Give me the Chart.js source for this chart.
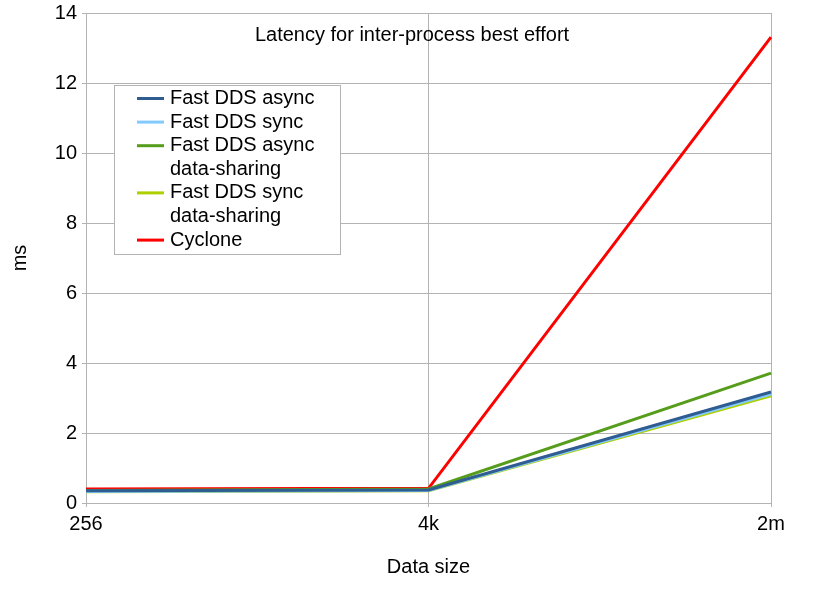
<!DOCTYPE html>
<html>
<head>
<meta charset="utf-8">
<script src="https://cdn.jsdelivr.net/npm/chart.js@4"></script>
<style>
html,body{margin:0;padding:0;background:#fff;}
#wrap{width:825px;height:606px;}
</style>
</head>
<body>
<div id="wrap"><canvas id="c" width="825" height="606"></canvas></div>
<script>
const categories = ['256', '4k', '2m'];
const seriesNames = ['Fast DDS async', 'Fast DDS sync', 'Fast DDS async\ndata-sharing', 'Fast DDS sync\ndata-sharing', 'Cyclone'];
const fastAsync = [0.35, 0.37, 3.17];
const fastSync = [0.33, 0.36, 3.11];
const fastAsyncDS = [0.36, 0.40, 3.71];
const fastSyncDS = [0.32, 0.35, 3.06];
const cyclone = [0.40, 0.42, 13.31];
const yTicks = [0, 2, 4, 6, 8, 10, 12, 14];
const chartTitle = 'Latency for inter-process best effort';
const xTitle = 'Data size';
const yTitle = 'ms';

const colors = ['#2f5d91', '#83caff', '#579d1c', '#aecf00', '#ff0000'];
const seriesValues = [fastAsync, fastSync, fastAsyncDS, fastSyncDS, cyclone];
const FONT = '"Liberation Sans", Arial, sans-serif';

const datasets = seriesValues.map((vals, i) => ({
  label: seriesNames[i],
  data: vals,
  borderColor: colors[i],
  backgroundColor: colors[i],
  borderWidth: 3,
  pointRadius: 0,
  tension: 0,
  fill: false
}));

const overlay = {
  id: 'overlay',
  afterDraw(chart) {
    const ctx = chart.ctx;
    ctx.save();
    // title
    ctx.fillStyle = '#000';
    ctx.font = '20px ' + FONT;
    ctx.textAlign = 'center';
    ctx.textBaseline = 'middle';
    ctx.fillText(chartTitle, 412, 35);
    // legend box
    const bx = 114.5, by = 85.5, bw = 226, bh = 169;
    ctx.fillStyle = '#fff';
    ctx.fillRect(bx, by, bw, bh);
    ctx.strokeStyle = '#b3b3b3';
    ctx.lineWidth = 1;
    ctx.strokeRect(bx, by, bw, bh);
    ctx.font = '20px ' + FONT;
    ctx.textAlign = 'left';
    let y = 98.5;
    const lh = 23.6;
    chart.data.datasets.forEach((ds) => {
      const lines = ds.label.split('\n');
      ctx.strokeStyle = ds.borderColor;
      ctx.lineWidth = 3;
      ctx.beginPath();
      ctx.moveTo(137, y);
      ctx.lineTo(164, y);
      ctx.stroke();
      ctx.fillStyle = '#000';
      lines.forEach((ln, j) => {
        ctx.fillText(ln, 170, y + j * lh);
      });
      y += lh * lines.length;
    });
    ctx.restore();
  }
};

new Chart(document.getElementById('c'), {
  type: 'line',
  data: { labels: categories, datasets },
  options: {
    responsive: false,
    animation: false,
    layout: { padding: { top: 13, right: 54, bottom: 0, left: 0 } },
    plugins: { legend: { display: false }, title: { display: false }, tooltip: { enabled: false } },
    scales: {
      x: {
        type: 'category',
        offset: false,
        grid: { color: '#b3b3b3', lineWidth: 1, tickLength: 4, drawTicks: true },
        border: { color: '#b3b3b3' },
        ticks: { color: '#000', font: { family: FONT, size: 20 }, padding: 5, maxRotation: 0, autoSkip: false },
        title: { display: true, text: xTitle, color: '#000', font: { family: FONT, size: 20 }, padding: { top: 0, bottom: 27 } },
        afterFit(s) { s.height = 103; s.paddingLeft = 0; s.paddingRight = 0; }
      },
      y: {
        min: 0, max: 14,
        afterBuildTicks(s) { s.ticks = yTicks.map(v => ({ value: v })); },
        grid: { color: '#b3b3b3', lineWidth: 1, tickLength: 4 },
        border: { color: '#b3b3b3' },
        ticks: { color: '#000', font: { family: FONT, size: 20 }, padding: 5 },
        title: { display: true, text: yTitle, color: '#000', font: { family: FONT, size: 20 }, padding: { top: 8, bottom: 0 } },
        afterFit(s) { s.width = 86; s.paddingTop = 0; s.paddingBottom = 0; }
      }
    }
  },
  plugins: [overlay]
});
</script>
</body>
</html>
